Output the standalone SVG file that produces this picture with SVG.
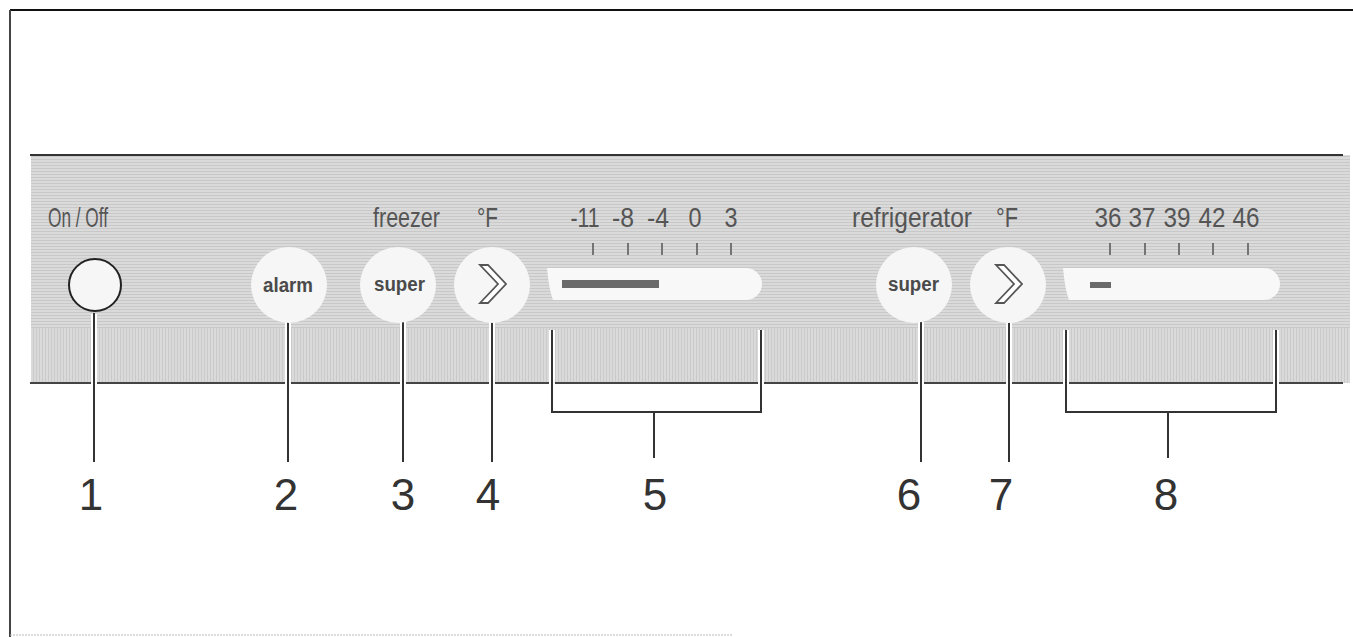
<svg xmlns="http://www.w3.org/2000/svg" width="1353" height="637" viewBox="0 0 1353 637">
<defs>
<pattern id="hatch" width="4" height="3" patternUnits="userSpaceOnUse">
<rect width="4" height="3" fill="#dadada"/>
<rect y="0" width="4" height="1" fill="#c8c8c8"/>
</pattern>
<pattern id="vhatch" width="3" height="4" patternUnits="userSpaceOnUse">
<rect width="3" height="4" fill="#dadada"/>
<rect x="0" width="1" height="4" fill="#cacaca"/>
</pattern>
</defs>
<style>
.lbl{font-family:"Liberation Sans",Arial,sans-serif;fill:#555;font-size:28px}
.sc{font-family:"Liberation Sans",Arial,sans-serif;fill:#555;font-size:28px;text-anchor:middle}
.btxt{font-family:"Liberation Sans",Arial,sans-serif;fill:#4a4a4a;font-size:20px;font-weight:bold}
.num{font-family:"Liberation Sans",Arial,sans-serif;fill:#333;font-size:44px;text-anchor:middle}
.btn{fill:#f6f6f6}
.halo{stroke:#fff;stroke-width:6;fill:none}
.lead{stroke:#333;stroke-width:2;fill:none}
.tick{stroke:#555;stroke-width:1.5}
.chev{fill:#fff;stroke:#555;stroke-width:1.8;stroke-linejoin:miter}
.bar{fill:#f8f8f8}
</style>

<g id="frame">
<line x1="10" y1="10" x2="1353" y2="10" stroke="#111" stroke-width="2"/>
<line x1="10" y1="10" x2="10" y2="637" stroke="#444" stroke-width="2"/>
<line x1="10" y1="635" x2="733" y2="635" stroke="#bbb" stroke-width="1" stroke-dasharray="2 1"/>
</g>

<g id="panel">
<rect x="31" y="155" width="1319" height="228" fill="url(#hatch)"/>
<rect x="31" y="328" width="1319" height="55" fill="url(#vhatch)"/>
<line x1="30" y1="155" x2="1343" y2="155" stroke="#333" stroke-width="2"/>
<line x1="30" y1="383" x2="1343" y2="383" stroke="#444" stroke-width="2"/>
</g>

<g id="connectors">
<path class="halo" d="M94,314 V462 M288,322 V462 M403,322 V462 M492,322 V462 M921,322 V462 M1009,322 V462 M552,330 V412 H761 V330 M654,412 V458 M1066,330 V412 H1276 V330 M1168,412 V458"/>
<path class="lead" d="M94,313 V462 M288,322 V462 M403,322 V462 M492,322 V462 M921,322 V462 M1009,322 V462 M552,330 V412 H761 V330 M654,412 V458 M1066,330 V412 H1276 V330 M1168,412 V458"/>
</g>

<g id="onoff">
<text class="lbl" x="48" y="227" textLength="60" lengthAdjust="spacingAndGlyphs">On / Off</text>
<circle cx="95" cy="285" r="26" fill="#f6f6f6" stroke="#222" stroke-width="2"/>
</g>

<g id="alarm">
<circle class="btn" cx="289" cy="285" r="38"/>
<text class="btxt" x="263" y="292" textLength="50" lengthAdjust="spacingAndGlyphs">alarm</text>
</g>

<g id="freezer-label">
<text class="lbl" x="373" y="227" textLength="67" lengthAdjust="spacingAndGlyphs">freezer</text>
<text class="lbl" x="477" y="227" textLength="21" lengthAdjust="spacingAndGlyphs">°F</text>
</g>

<g id="freezer-super">
<circle class="btn" cx="398" cy="285" r="38"/>
<text class="btxt" x="374" y="291" textLength="51" lengthAdjust="spacingAndGlyphs">super</text>
</g>

<g id="freezer-temp">
<circle class="btn" cx="492" cy="285" r="38"/>
<polygon class="chev" points="480,265 488,265 506,284 488,303 480,303 498,284"/>
</g>

<g id="freezer-display">
<text class="sc" x="585" y="227" textLength="29" lengthAdjust="spacingAndGlyphs">-11</text>
<text class="sc" x="623" y="227" textLength="22" lengthAdjust="spacingAndGlyphs">-8</text>
<text class="sc" x="658" y="227" textLength="22" lengthAdjust="spacingAndGlyphs">-4</text>
<text class="sc" x="695" y="227" textLength="13" lengthAdjust="spacingAndGlyphs">0</text>
<text class="sc" x="731" y="227" textLength="13" lengthAdjust="spacingAndGlyphs">3</text>
<g class="tick">
<line x1="593" y1="243" x2="593" y2="255"/>
<line x1="628" y1="243" x2="628" y2="255"/>
<line x1="662" y1="243" x2="662" y2="255"/>
<line x1="697" y1="243" x2="697" y2="255"/>
<line x1="731" y1="243" x2="731" y2="255"/>
</g>
<path class="bar" d="M547,268 L746,268 A16,16 0 0 1 746,300 L553,300 Q549,290 547,268 Z"/>
<rect x="562" y="280" width="97" height="8" fill="#6a6a6a"/>
</g>

<g id="fridge-label">
<text class="lbl" x="852" y="227" textLength="120" lengthAdjust="spacingAndGlyphs">refrigerator</text>
<text class="lbl" x="996" y="227" textLength="22" lengthAdjust="spacingAndGlyphs">°F</text>
</g>

<g id="fridge-super">
<circle class="btn" cx="914" cy="285" r="38"/>
<text class="btxt" x="888" y="291" textLength="51" lengthAdjust="spacingAndGlyphs">super</text>
</g>

<g id="fridge-temp">
<circle class="btn" cx="1008" cy="285" r="38"/>
<polygon class="chev" points="996,265 1004,265 1022,284 1004,303 996,303 1014,284"/>
</g>

<g id="fridge-display">
<text class="sc" x="1108" y="227" textLength="27" lengthAdjust="spacingAndGlyphs">36</text>
<text class="sc" x="1142" y="227" textLength="27" lengthAdjust="spacingAndGlyphs">37</text>
<text class="sc" x="1177" y="227" textLength="27" lengthAdjust="spacingAndGlyphs">39</text>
<text class="sc" x="1212" y="227" textLength="27" lengthAdjust="spacingAndGlyphs">42</text>
<text class="sc" x="1246" y="227" textLength="27" lengthAdjust="spacingAndGlyphs">46</text>
<g class="tick">
<line x1="1110" y1="243" x2="1110" y2="255"/>
<line x1="1145" y1="243" x2="1145" y2="255"/>
<line x1="1179" y1="243" x2="1179" y2="255"/>
<line x1="1213" y1="243" x2="1213" y2="255"/>
<line x1="1248" y1="243" x2="1248" y2="255"/>
</g>
<path class="bar" d="M1063,268 L1264,268 A16,16 0 0 1 1264,300 L1069,300 Q1065,290 1063,268 Z"/>
<rect x="1090" y="282" width="21" height="6" fill="#6a6a6a"/>
</g>

<g id="numbers">
<text class="num" x="91" y="510">1</text>
<text class="num" x="286" y="510">2</text>
<text class="num" x="403" y="510">3</text>
<text class="num" x="488" y="510">4</text>
<text class="num" x="655" y="510">5</text>
<text class="num" x="909" y="510">6</text>
<text class="num" x="1001" y="510">7</text>
<text class="num" x="1166" y="510">8</text>
</g>
</svg>
